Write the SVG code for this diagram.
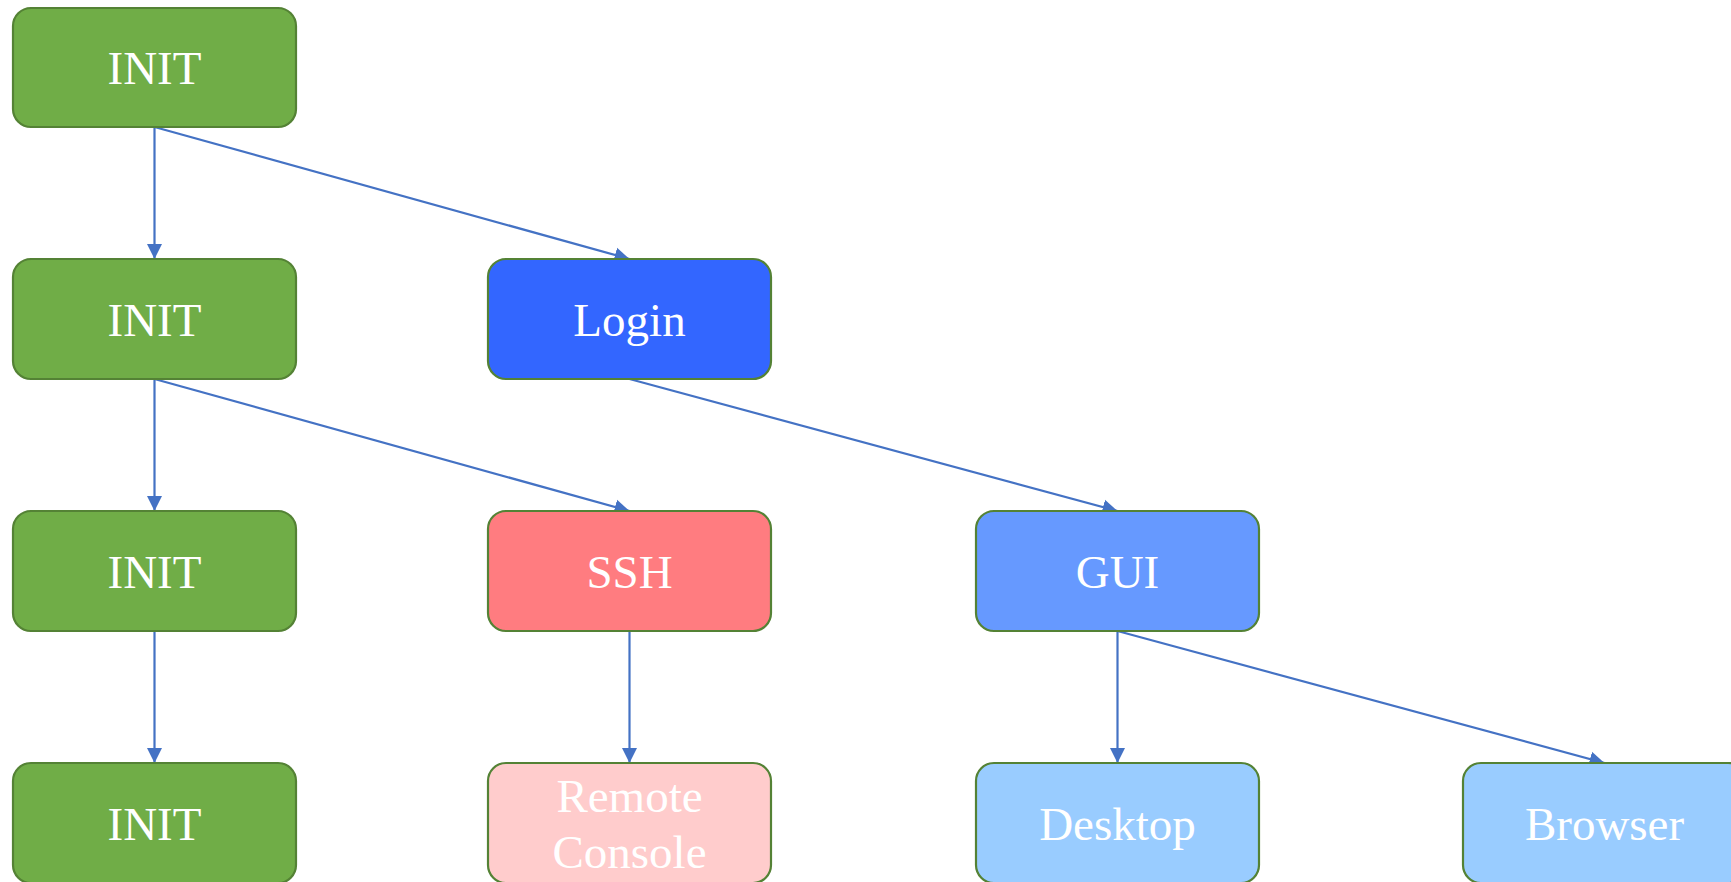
<svg xmlns="http://www.w3.org/2000/svg" width="1731" height="882" viewBox="0 0 1731 882">
  <style>
    .box { stroke: #548235; stroke-width: 2.2; }
    .lbl { font-family: "Liberation Serif", "Times New Roman", serif; font-size: 47px; fill: #ffffff; text-anchor: middle; }
    .green { fill: #70AD47; }
    .login { fill: #3366FF; }
    .ssh { fill: #FF7C80; }
    .gui { fill: #6699FF; }
    .remote { fill: #FFCCCC; }
    .light { fill: #99CCFF; }
    .edge { stroke: #4472C4; stroke-width: 2.2; fill: none; marker-end: url(#arrow); }
  </style>
  <defs>
    <marker id="arrow" markerUnits="userSpaceOnUse" markerWidth="16" markerHeight="16" viewBox="0 0 16 16" refX="15" refY="8" orient="auto">
      <path d="M0,0.5 L15,8 L0,15.5 Z" fill="#4472C4"/>
    </marker>
  </defs>

  <rect width="1731" height="882" fill="#ffffff"/>

  <g id="connectors">
    <line class="edge" x1="154.5" y1="127" x2="154.5" y2="259"/>
    <line class="edge" x1="154.5" y1="127" x2="629.5" y2="259"/>
    <line class="edge" x1="154.5" y1="379" x2="154.5" y2="511"/>
    <line class="edge" x1="154.5" y1="379" x2="629.5" y2="511"/>
    <line class="edge" x1="629.5" y1="379" x2="1117.5" y2="511"/>
    <line class="edge" x1="154.5" y1="631" x2="154.5" y2="763"/>
    <line class="edge" x1="629.5" y1="631" x2="629.5" y2="763"/>
    <line class="edge" x1="1117.5" y1="631" x2="1117.5" y2="763"/>
    <line class="edge" x1="1117.5" y1="631" x2="1604.5" y2="763"/>
  </g>

  <g id="init1">
    <rect class="box green" x="13" y="8" width="283" height="119" rx="18"/>
    <text class="lbl" x="154.5" y="84">INIT</text>
  </g>
  <g id="init2">
    <rect class="box green" x="13" y="259" width="283" height="120" rx="18"/>
    <text class="lbl" x="154.5" y="336">INIT</text>
  </g>
  <g id="login">
    <rect class="box login" x="488" y="259" width="283" height="120" rx="18"/>
    <text class="lbl" x="629.5" y="336">Login</text>
  </g>
  <g id="init3">
    <rect class="box green" x="13" y="511" width="283" height="120" rx="18"/>
    <text class="lbl" x="154.5" y="588">INIT</text>
  </g>
  <g id="ssh">
    <rect class="box ssh" x="488" y="511" width="283" height="120" rx="18"/>
    <text class="lbl" x="629.5" y="588">SSH</text>
  </g>
  <g id="gui">
    <rect class="box gui" x="976" y="511" width="283" height="120" rx="18"/>
    <text class="lbl" x="1117.5" y="588">GUI</text>
  </g>
  <g id="init4">
    <rect class="box green" x="13" y="763" width="283" height="120" rx="18"/>
    <text class="lbl" x="154.5" y="840">INIT</text>
  </g>
  <g id="remote-console">
    <rect class="box remote" x="488" y="763" width="283" height="120" rx="18"/>
    <text class="lbl" x="629.5" y="812">Remote</text>
    <text class="lbl" x="629.5" y="868">Console</text>
  </g>
  <g id="desktop">
    <rect class="box light" x="976" y="763" width="283" height="120" rx="18"/>
    <text class="lbl" x="1117.5" y="840">Desktop</text>
  </g>
  <g id="browser">
    <rect class="box light" x="1463" y="763" width="283" height="120" rx="18"/>
    <text class="lbl" x="1604.5" y="840">Browser</text>
  </g>
</svg>
